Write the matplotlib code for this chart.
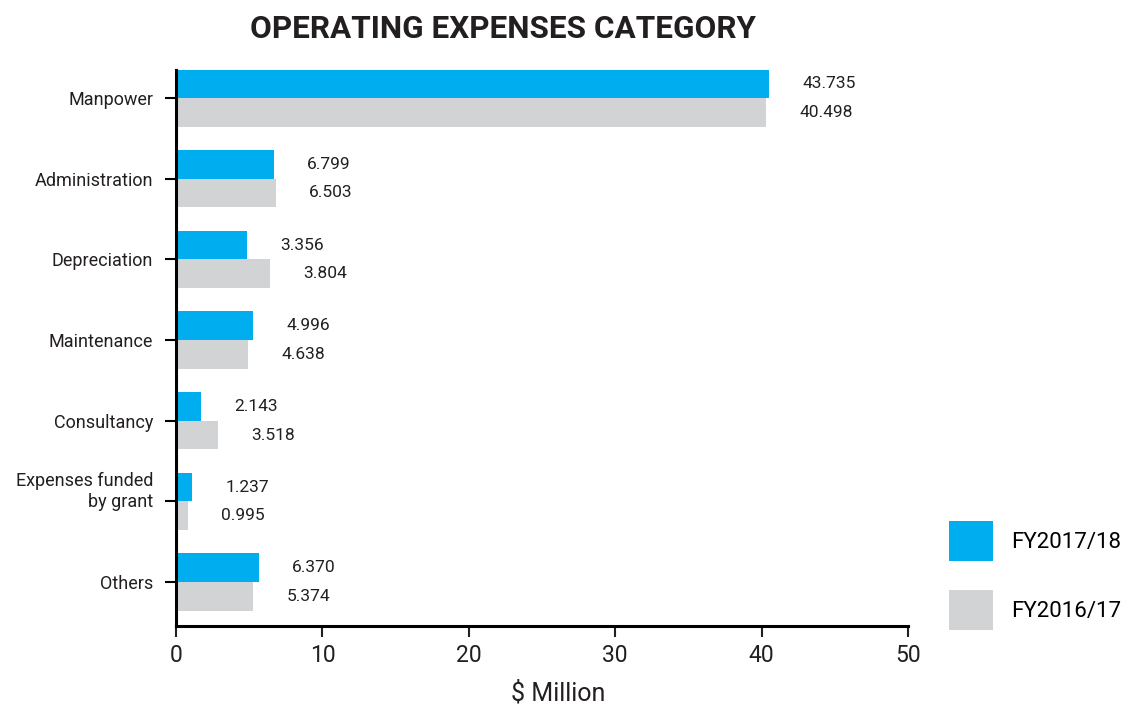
import numpy as np
import matplotlib.pyplot as plt
from matplotlib.transforms import ScaledTranslation

plt.rcParams['font.family'] = ['Roboto', 'DejaVu Sans']

categories = ['Manpower', 'Administration', 'Depreciation', 'Maintenance',
              'Consultancy', 'Expenses funded\nby grant', 'Others']
# bar lengths as drawn in the source picture
fy1718 = [40.5, 6.69, 4.83, 5.24, 1.69, 1.09, 5.67]
fy1617 = [40.28, 6.83, 6.42, 4.92, 2.87, 0.82, 5.26]
# value labels as printed
lab1718 = ['43.735', '6.799', '3.356', '4.996', '2.143', '1.237', '6.370']
lab1617 = ['40.498', '6.503', '3.804', '4.638', '3.518', '0.995', '5.374']

blue = '#00AEEF'
grey = '#D1D3D4'
ink = '#231f20'

fig = plt.figure(figsize=(11.29, 7.06), dpi=100)
ax = fig.add_axes([176 / 1129, 1 - 626 / 706, (908 - 176) / 1129, (626 - 70) / 706])

y = np.arange(len(categories))
h = 0.355
b1 = ax.barh(y - h / 2, fy1718, height=h, color=blue, label='FY2017/18')
b2 = ax.barh(y + h / 2, fy1617, height=h, color=grey, label='FY2016/17')

for yy, v, t in zip(y - h / 2, fy1718, lab1718):
    ax.annotate(t, (v, yy), xytext=(24, 0), textcoords='offset points',
                va='center', ha='left', fontsize=12.5, color=ink)
for yy, v, t in zip(y + h / 2, fy1617, lab1617):
    ax.annotate(t, (v, yy), xytext=(24, 0), textcoords='offset points',
                va='center', ha='left', fontsize=12.5, color=ink)

ax.set_xlim(0, 50)
ax.set_ylim(6.545, -0.347)
ax.set_yticks(y)
ax.set_yticklabels(categories, fontsize=13, color=ink, linespacing=1.23)
ax.set_xticks(range(0, 51, 10))
ax.tick_params(axis='x', labelsize=16.5, length=8, width=1.5, pad=5, colors=ink)
ax.tick_params(axis='y', length=8, width=1.5, pad=8.5)
for s in ['top', 'right']:
    ax.spines[s].set_visible(False)
for s in ['left', 'bottom']:
    ax.spines[s].set_linewidth(2.2)

# two-line label sits a bit above its tick
lbl = ax.get_yticklabels()[5]
lbl.set_transform(lbl.get_transform() + ScaledTranslation(0, 10 / 72, fig.dpi_scale_trans))

fig.text(503 / 1129, 1 - 29 / 706, 'OPERATING EXPENSES CATEGORY', ha='center',
         va='center', fontsize=22.7, fontweight='bold', color=ink)
fig.text(558 / 1129, 1 - 693 / 706, '$ Million', ha='center', va='center',
         fontsize=18, color=ink)

ax.legend(handles=[b1, b2], loc='lower left', frameon=False,
          bbox_to_anchor=(949 / 1129, 1 - 630 / 706), bbox_transform=fig.transFigure,
          fontsize=16, handlelength=2.0, handleheight=2.4, labelspacing=1.3,
          handletextpad=0.8, borderpad=0, borderaxespad=0)

fig.savefig('out.png', dpi=100)
